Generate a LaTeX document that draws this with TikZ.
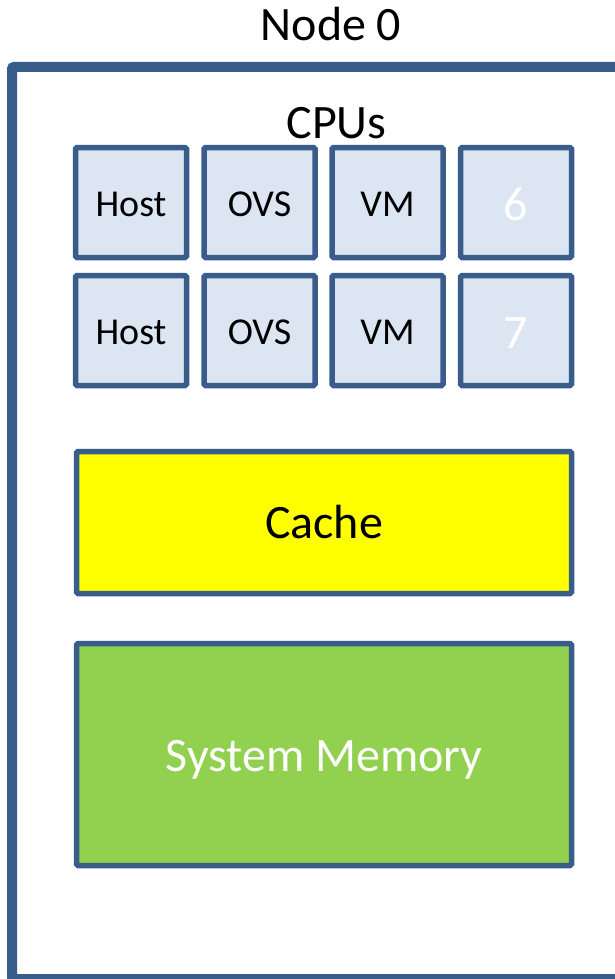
\documentclass[tikz,border=0pt]{standalone}
\usepackage{fontspec}
\setmainfont{Carlito}
\definecolor{bordblue}{HTML}{385D8A}
\definecolor{cellfill}{HTML}{DCE6F2}
\definecolor{cacheyellow}{HTML}{FFFF00}
\definecolor{memgreen}{HTML}{92D050}
\tikzset{
  cpucell/.style={draw=bordblue, line width=5.5pt, fill=cellfill, rounded corners=1.5pt,
    minimum width=111pt, minimum height=110pt, inner sep=0pt,
    font=\fontsize{38}{42}\selectfont, text height=27pt, text depth=0pt},
  numcell/.style={cpucell, text=white, font=\fontsize{48}{52}\selectfont, text height=35pt},
  bigbox/.style={draw=bordblue, line width=5.5pt, rounded corners=1.5pt,
    minimum width=495pt, inner sep=0pt,
    font=\fontsize{48}{52}\selectfont, text height=31pt, text depth=0pt},
  title/.style={inner sep=0pt, font=\fontsize{48}{52}\selectfont, anchor=base}
}
\begin{document}
\begin{tikzpicture}[x=1pt,y=-1pt]
\useasboundingbox (0,0) rectangle (615,979);
\begin{scope}
\clip (0,0) rectangle (615,979);
\draw[bordblue, line width=10pt, rounded corners=2pt, fill=white] (12,67) rectangle (622,979);
\end{scope}
\node[title] (nodetitle) at (331,41) {Node 0};
% cells
\node[cpucell] (c11) at (131,202.5) {Host};
\node[cpucell] (c12) at (259.5,202.5) {OVS};
\node[cpucell] (c13) at (387.5,202.5) {VM};
\node[numcell] (c14) at (516,202.5) {6};
\node[cpucell] (c21) at (131,330.5) {Host};
\node[cpucell] (c22) at (259.5,330.5) {OVS};
\node[cpucell] (c23) at (387.5,330.5) {VM};
\node[numcell] (c24) at (516,330.5) {7};
\node[title] (cpus) at (336.5,139) {CPUs};
\node[bigbox, fill=cacheyellow, minimum height=142pt] (cache) at (324,522.5) {Cache};
\node[bigbox, fill=memgreen, text=white, minimum height=222pt, text height=33pt] (mem) at (324,754.5) {System Memory};
\end{tikzpicture}
\end{document}
